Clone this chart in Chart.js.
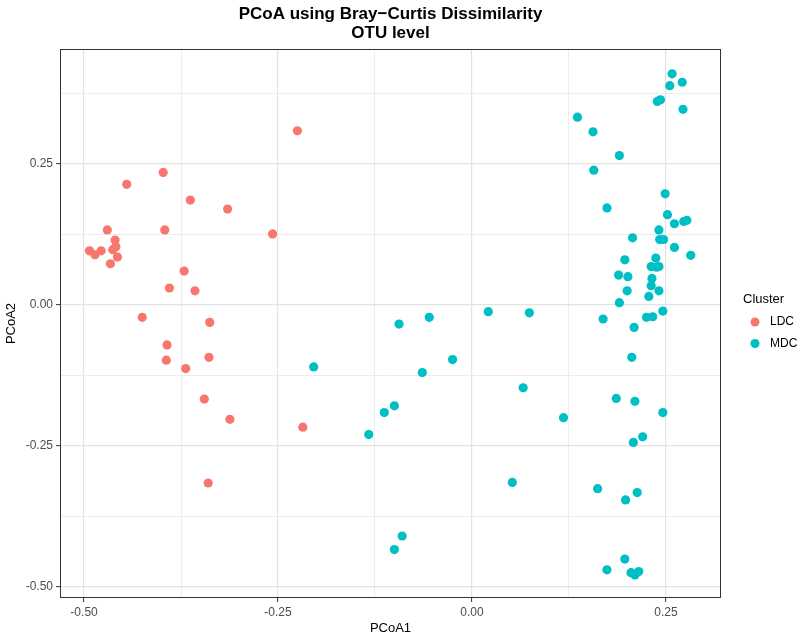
<!DOCTYPE html>
<html>
<head>
<meta charset="utf-8">
<script src="https://cdn.jsdelivr.net/npm/chart.js@4.4.1/dist/chart.umd.min.js"></script>
<style>
  html, body { margin: 0; padding: 0; background: #fff; }
  #grafico { display: block; }
</style>
</head>
<body>
<canvas id="grafico" width="800" height="640"></canvas>
<script>
// PCoA coordinates
const ldcX = [-0.225, -0.398, -0.445, -0.363, -0.315, -0.257, -0.470, -0.396, -0.460, -0.459,
  -0.463, -0.493, -0.486, -0.478, -0.457, -0.466, -0.371, -0.390, -0.357, -0.425,
  -0.338, -0.393, -0.394, -0.339, -0.369, -0.345, -0.312, -0.218, -0.340];
const ldcY = [0.309, 0.235, 0.214, 0.186, 0.170, 0.126, 0.133, 0.133, 0.115, 0.103,
  0.098, 0.096, 0.089, 0.096, 0.085, 0.073, 0.060, 0.030, 0.025, -0.022,
  -0.031, -0.071, -0.098, -0.093, -0.113, -0.167, -0.203, -0.217, -0.316];

const mdcX = [-0.204, -0.133, -0.113, -0.100, -0.064, -0.025, 0.066, 0.052, -0.090, -0.100,
  -0.094, -0.055, 0.021, 0.074,
  0.258, 0.271, 0.255, 0.239, 0.243, 0.272, 0.136, 0.156, 0.190, 0.157,
  0.249, 0.174, 0.252, 0.261, 0.273, 0.277, 0.241, 0.207, 0.242, 0.247,
  0.261, 0.282, 0.197, 0.237, 0.231, 0.238, 0.241, 0.189, 0.201, 0.232,
  0.231, 0.200, 0.241, 0.228, 0.190, 0.246, 0.169, 0.225, 0.233, 0.209,
  0.206, 0.186, 0.210, 0.118, 0.246, 0.220, 0.208, 0.162, 0.213, 0.198,
  0.197, 0.174, 0.205, 0.215, 0.210];
const mdcY = [-0.110, -0.230, -0.191, -0.179, -0.120, -0.097, -0.147, -0.315, -0.410, -0.434,
  -0.034, -0.022, -0.012, -0.014,
  0.410, 0.395, 0.389, 0.361, 0.364, 0.347, 0.333, 0.307, 0.265, 0.239,
  0.197, 0.172, 0.160, 0.144, 0.148, 0.150, 0.133, 0.119, 0.116, 0.116,
  0.102, 0.088, 0.080, 0.083, 0.068, 0.067, 0.068, 0.053, 0.050, 0.047,
  0.034, 0.025, 0.025, 0.015, 0.004, -0.011, -0.025, -0.022, -0.021, -0.040,
  -0.093, -0.166, -0.171, -0.200, -0.191, -0.234, -0.244, -0.326, -0.333, -0.346,
  -0.451, -0.470, -0.475, -0.473, -0.479];

const clusters = ["LDC", "MDC"];
const colores = ["#F8766D", "#00BFC4"];

const xMajor = [-0.5, -0.25, 0, 0.25];
const xMinor = [-0.375, -0.125, 0.125];
const yMajor = [-0.5, -0.25, 0, 0.25];
const yMinor = [-0.375, -0.125, 0.125, 0.375];

function puntos(xs, ys) {
  return xs.map((x, i) => ({ x: x, y: ys[i] }));
}

function esMayor(v) {
  return Math.abs(v / 0.25 - Math.round(v / 0.25)) < 1e-6;
}

function ejeComun(mayores, menores) {
  return {
    afterBuildTicks: (scale) => {
      scale.ticks = mayores.concat(menores).sort((a, b) => a - b).map((v) => ({ value: v }));
    },
    ticks: {
      color: "#4d4d4d",
      font: { family: "Liberation Sans, Arial, sans-serif", size: 12 },
      padding: 3,
      autoSkip: false,
      maxRotation: 0,
      callback: (value) => (esMayor(value) ? value.toFixed(2) : ""),
    },
    grid: {
      color: (ctx) => (esMayor(ctx.tick.value) ? "#e3e3e3" : "#ededed"),
      lineWidth: (ctx) => (esMayor(ctx.tick.value) ? 1.2 : 1),
      tickColor: (ctx) => (esMayor(ctx.tick.value) ? "#333333" : "rgba(0,0,0,0)"),
      tickLength: 4,
      tickWidth: 1,
    },
    border: { display: false },
  };
}

// titulo, borde del panel y leyenda
const decoracion = {
  id: "decoracion",
  afterDraw(chart) {
    const ctx = chart.ctx;
    const area = chart.chartArea;
    ctx.save();
    ctx.strokeStyle = "#333333";
    ctx.lineWidth = 1;
    ctx.strokeRect(area.left + 0.5, area.top + 0.5, area.right - area.left - 1, area.bottom - area.top - 1);

    const cx = (area.left + area.right) / 2;
    ctx.fillStyle = "#000";
    ctx.textAlign = "center";
    ctx.textBaseline = "middle";
    ctx.font = "bold 17px 'Liberation Sans', Arial, sans-serif";
    ctx.fillText("PCoA using Bray\u2212Curtis Dissimilarity", cx, 14);
    ctx.fillText("OTU level", cx, 33);

    ctx.textAlign = "left";
    ctx.font = "13px 'Liberation Sans', Arial, sans-serif";
    ctx.fillText("Cluster", 743, 299);
    ctx.font = "12px 'Liberation Sans', Arial, sans-serif";
    clusters.forEach((nombre, i) => {
      const y = 322 + i * 21.5;
      ctx.fillStyle = colores[i];
      ctx.beginPath();
      ctx.arc(755, y, 4.5, 0, Math.PI * 2);
      ctx.fill();
      ctx.fillStyle = "#000";
      ctx.fillText(nombre, 770, y);
    });
    ctx.restore();
  },
};

const xEje = ejeComun(xMajor, xMinor);
xEje.type = "linear";
xEje.min = -0.531;
xEje.max = 0.321;
xEje.title = {
  display: true,
  text: "PCoA1",
  color: "#000",
  font: { family: "Liberation Sans, Arial, sans-serif", size: 13 },
  padding: { top: 2, bottom: 4 },
};
xEje.afterFit = (scale) => { scale.height = 42; };

const yEje = ejeComun(yMajor, yMinor);
yEje.type = "linear";
yEje.min = -0.52;
yEje.max = 0.454;
yEje.title = {
  display: true,
  text: "PCoA2",
  color: "#000",
  font: { family: "Liberation Sans, Arial, sans-serif", size: 13 },
  padding: { top: 4, bottom: 2 },
};
yEje.afterFit = (scale) => { scale.width = 60; };

new Chart(document.getElementById("grafico").getContext("2d"), {
  type: "scatter",
  data: {
    datasets: [
      {
        label: clusters[0],
        data: puntos(ldcX, ldcY),
        backgroundColor: colores[0],
        borderWidth: 0,
        pointRadius: 4.6,
      },
      {
        label: clusters[1],
        data: puntos(mdcX, mdcY),
        backgroundColor: colores[1],
        borderWidth: 0,
        pointRadius: 4.6,
      },
    ],
  },
  options: {
    responsive: false,
    animation: false,
    layout: { padding: { top: 49, right: 79, left: 0, bottom: 0 } },
    scales: { x: xEje, y: yEje },
    plugins: {
      legend: { display: false },
      tooltip: { enabled: false },
    },
  },
  plugins: [decoracion],
});
</script>
</body>
</html>
